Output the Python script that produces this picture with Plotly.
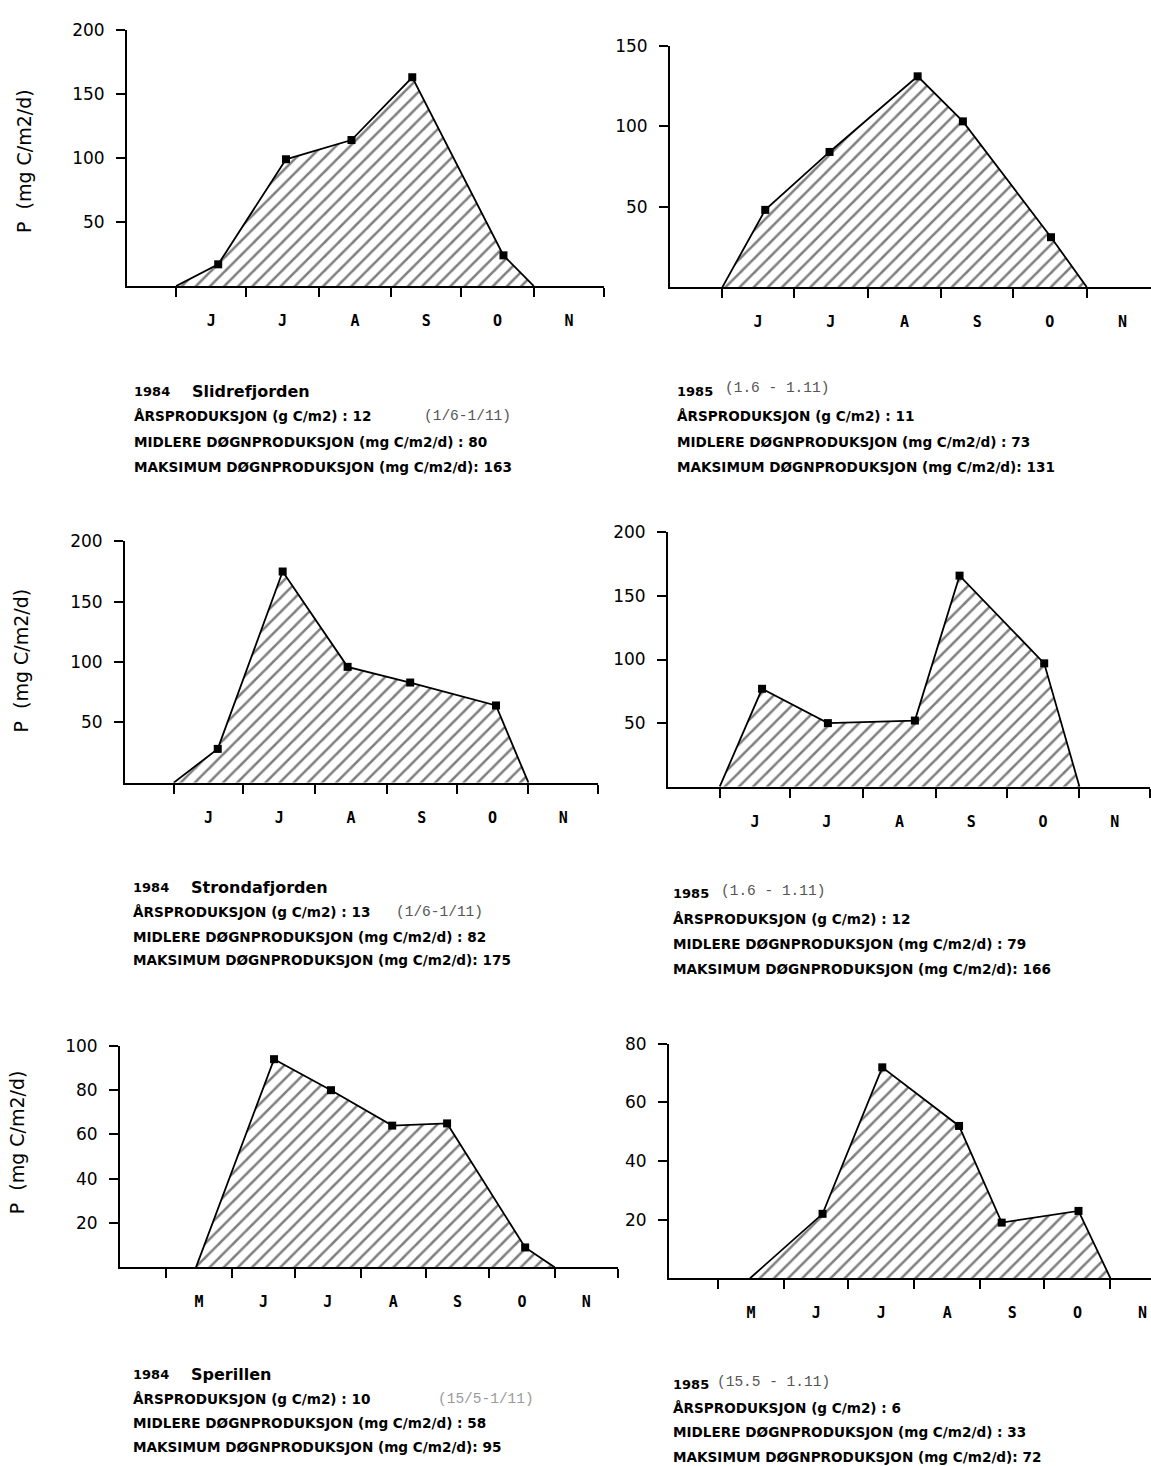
import plotly.graph_objects as go
import pandas as pd

W, H = 1151, 1466

# ---------------- data ----------------
MONTH_LETTERS = {5: "M", 6: "J", 7: "J", 8: "A", 9: "S", 10: "O", 11: "N"}

SLIDRE_1984_DATES = ["1984-06-01", "1984-06-19", "1984-07-18", "1984-08-15", "1984-09-10", "1984-10-19", "1984-11-01"]
SLIDRE_1984_P = [0, 17, 99, 114, 163, 24, 0]

SLIDRE_1985_DATES = ["1985-06-01", "1985-06-19", "1985-07-16", "1985-08-22", "1985-09-10", "1985-10-17", "1985-11-01"]
SLIDRE_1985_P = [0, 48, 84, 131, 103, 31, 0]

STRONDA_1984_DATES = ["1984-06-01", "1984-06-20", "1984-07-18", "1984-08-15", "1984-09-11", "1984-10-18", "1984-11-01"]
STRONDA_1984_P = [0, 28, 175, 96, 83, 64, 0]

STRONDA_1985_DATES = ["1985-06-01", "1985-06-19", "1985-07-17", "1985-08-23", "1985-09-11", "1985-10-17", "1985-11-01"]
STRONDA_1985_P = [0, 77, 50, 52, 166, 97, 0]

SPERILLEN_1984_DATES = ["1984-05-15", "1984-06-21", "1984-07-18", "1984-08-16", "1984-09-11", "1984-10-18", "1984-11-01"]
SPERILLEN_1984_P = [0, 94, 80, 64, 65, 9, 0]

SPERILLEN_1985_DATES = ["1985-05-16", "1985-06-19", "1985-07-17", "1985-08-22", "1985-09-11", "1985-10-17", "1985-11-01"]
SPERILLEN_1985_P = [0, 22, 72, 52, 19, 23, 0]

Y_TICKS_200 = [50, 100, 150, 200]
Y_TICKS_150 = [50, 100, 150]
Y_TICKS_100 = [20, 40, 60, 80, 100]
Y_TICKS_80 = [20, 40, 60, 80]

Y_TITLE = "P  (mg C/m2/d)"

# text blocks: (header_year, header_name, header_paren, ars, ars_paren, midlere, maksimum)
TEXT_1 = ("1984", "Slidrefjorden", None, "12", "(1/6-1/11)", "80", "163")
TEXT_2 = ("1985", None, "(1.6 - 1.11)", "11", None, "73", "131")
TEXT_3 = ("1984", "Strondafjorden", None, "13", "(1/6-1/11)", "82", "175")
TEXT_4 = ("1985", None, "(1.6 - 1.11)", "12", None, "79", "166")
TEXT_5 = ("1984", "Sperillen", None, "10", "(15/5-1/11)", "58", "95")
TEXT_6 = ("1985", None, "(15.5 - 1.11)", "6", None, "33", "72")

# ---------------- layout helpers ----------------
def month_start(year, m):
    return pd.Timestamp(year=year + (m - 1) // 12, month=(m - 1) % 12 + 1, day=1)

def fmt(ts):
    return ts.strftime("%Y-%m-%d %H:%M")

panels = [
    dict(dates=SLIDRE_1984_DATES, vals=SLIDRE_1984_P, year=1984, yt=Y_TICKS_200, months=range(6, 12),
         xd=(127, 604), yd=(20, 278), xr=("1984-05-11", "1984-12-01"), ytitle=(24, 152),
         text=TEXT_1, tx=132, ty=(384, 409, 435, 460), tparen=422, hparen_dx=0, tparen_col="#555"),
    dict(dates=SLIDRE_1985_DATES, vals=SLIDRE_1985_P, year=1985, yt=Y_TICKS_150, months=range(6, 12),
         xd=(670, 1151), yd=(36, 279), xr=("1985-05-10", "1985-11-28"), ytitle=None,
         text=TEXT_2, tx=675, ty=(384, 409, 435, 460), tparen=None, hparen_dx=48, tparen_col="#555"),
    dict(dates=STRONDA_1984_DATES, vals=STRONDA_1984_P, year=1984, yt=Y_TICKS_200, months=range(6, 12),
         xd=(125, 598), yd=(535, 778), xr=("1984-05-11", "1984-12-01"), ytitle=(21, 655),
         text=TEXT_3, tx=131, ty=(884, 908, 933, 957), tparen=394, hparen_dx=0, tparen_col="#555"),
    dict(dates=STRONDA_1985_DATES, vals=STRONDA_1985_P, year=1985, yt=Y_TICKS_200, months=range(6, 12),
         xd=(668, 1150), yd=(526, 782), xr=("1985-05-10", "1985-12-01"), ytitle=None,
         text=TEXT_4, tx=671, ty=(890, 915, 940, 966), tparen=None, hparen_dx=48, tparen_col="#555"),
    dict(dates=SPERILLEN_1984_DATES, vals=SPERILLEN_1984_P, year=1984, yt=Y_TICKS_100, months=range(5, 12),
         xd=(120, 618), yd=(1043, 1266), xr=("1984-04-09", "1984-12-01"), ytitle=(17, 1140),
         text=TEXT_5, tx=131, ty=(1374, 1399, 1423, 1447), tparen=436, hparen_dx=0, tparen_col="#9a9a9a"),
    dict(dates=SPERILLEN_1985_DATES, vals=SPERILLEN_1985_P, year=1985, yt=Y_TICKS_80, months=range(5, 12),
         xd=(669, 1151), yd=(1041, 1277), xr=("1985-04-08", "1985-11-20"), ytitle=None,
         text=TEXT_6, tx=671, ty=(1384, 1408, 1432, 1457), tparen=None, hparen_dx=44, tparen_col="#555"),
]

fig = go.Figure()
layout = dict(width=W, height=H, margin=dict(l=0, r=0, t=0, b=0),
              paper_bgcolor="white", plot_bgcolor="rgba(0,0,0,0)", showlegend=False)
annotations = []

BOLD = dict(family="DejaVu Sans", size=13.6, color="black", weight="bold")
MONO = dict(family="Liberation Mono", size=14.5, color="#555")

def ann(x, y, text, font, xanchor="left"):
    annotations.append(dict(x=x / W, y=1 - y / H, xref="paper", yref="paper", text=text, showarrow=False,
                            xanchor=xanchor, yanchor="middle", font=font))

for i, p in enumerate(panels, start=1):
    xs = f"x{i}" if i > 1 else "x"
    ys = f"y{i}" if i > 1 else "y"
    fig.add_trace(go.Scatter(
        x=p["dates"], y=p["vals"], mode="lines", line=dict(color="black", width=1.8),
        fill="tozeroy", fillcolor="white",
        fillpattern=dict(shape="/", size=10, solidity=0.25, fgcolor="black", bgcolor="white"),
        xaxis=xs, yaxis=ys, hoverinfo="skip"))
    fig.add_trace(go.Scatter(
        x=p["dates"][1:-1], y=p["vals"][1:-1], mode="markers",
        marker=dict(symbol="square", size=8, color="black"),
        xaxis=xs, yaxis=ys, cliponaxis=False, hoverinfo="skip"))

    year = p["year"]
    starts = [month_start(year, m) for m in range(4, 13)]
    mids = [month_start(year, m) + (month_start(year, m + 1) - month_start(year, m)) / 2 for m in p["months"]]
    letters = [MONTH_LETTERS[m] for m in p["months"]]

    xkey = "xaxis" if i == 1 else f"xaxis{i}"
    ykey = "yaxis" if i == 1 else f"yaxis{i}"
    layout[xkey] = dict(
        type="date", domain=[p["xd"][0] / W, p["xd"][1] / W], range=list(p["xr"]), anchor=ys,
        showline=True, linecolor="black", linewidth=2, showgrid=False, zeroline=False,
        tickmode="array", tickvals=[fmt(t) for t in mids], ticktext=letters, ticks="",
        ticklabelstandoff=20, tickfont=dict(family="DejaVu Sans Mono", size=15, color="black", weight="bold"),
        minor=dict(tickmode="array", tickvals=[fmt(t) for t in starts], ticks="outside", ticklen=9,
                   tickwidth=1.5, tickcolor="black", showgrid=False),
        fixedrange=True)
    layout[ykey] = dict(
        domain=[1 - p["yd"][1] / H, 1 - p["yd"][0] / H], range=[0, p["yt"][-1]], anchor=xs,
        showline=True, linecolor="black", linewidth=2, showgrid=False, zeroline=False,
        tickmode="array", tickvals=p["yt"], ticks="outside", ticklen=9, tickwidth=1.5, tickcolor="black",
        ticklabelstandoff=8, tickfont=dict(family="DejaVu Sans", size=17, color="black"),
        fixedrange=True)

    if p["ytitle"]:
        annotations.append(dict(x=p["ytitle"][0] / W, y=1 - p["ytitle"][1] / H, xref="paper", yref="paper",
                                text=Y_TITLE, showarrow=False, textangle=-90, xanchor="center",
                                yanchor="middle", font=dict(family="DejaVu Sans", size=19, color="black")))

    yr, name, hparen, ars, ars_paren, mid, mak = p["text"]
    tx, ty = p["tx"], p["ty"]
    ann(tx, ty[0], yr, dict(BOLD, size=13))
    if name:
        ann(tx + 58, ty[0], name, dict(family="DejaVu Sans", size=16, color="black", weight="bold"))
    if hparen:
        ann(tx + p["hparen_dx"], ty[0] - 3, hparen, MONO)
    ann(tx, ty[1], f"ÅRSPRODUKSJON (g C/m2) : {ars}", BOLD)
    if ars_paren:
        ann(p["tparen"], ty[1], ars_paren, dict(MONO, color=p["tparen_col"]))
    ann(tx, ty[2], f"MIDLERE DØGNPRODUKSJON (mg C/m2/d) : {mid}", BOLD)
    ann(tx, ty[3], f"MAKSIMUM DØGNPRODUKSJON (mg C/m2/d): {mak}", BOLD)

layout["annotations"] = annotations
fig.update_layout(**layout)

fig.write_html("out.html", config={"displayModeBar": False},
               post_script="document.body.style.margin='0';")
